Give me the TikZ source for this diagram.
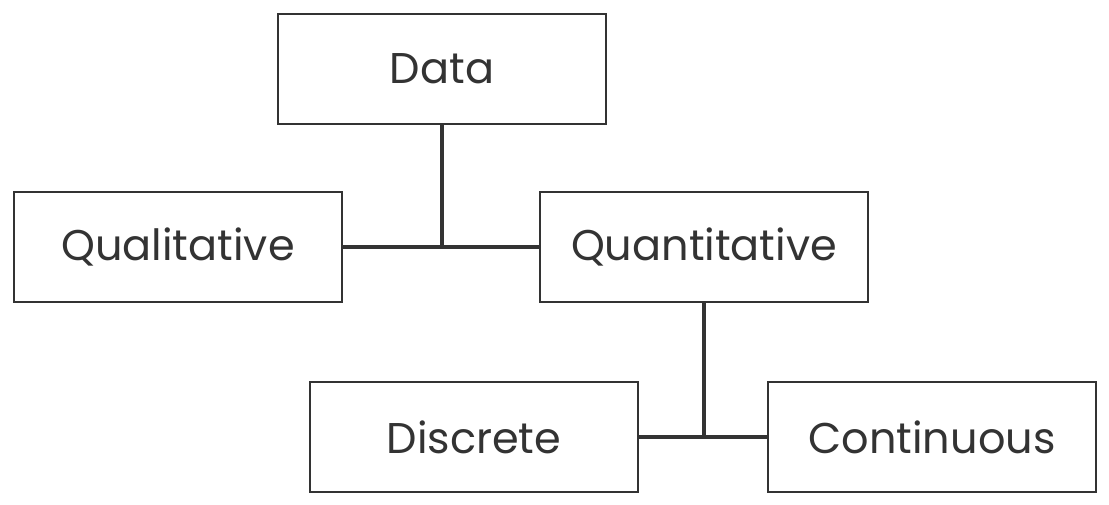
\documentclass[tikz,border=0pt]{standalone}
\usepackage{fontspec}
\setmainfont{Poppins}
\definecolor{ink}{HTML}{333333}
\begin{document}
\begin{tikzpicture}[x=1pt,y=-1pt,
  box/.style={draw=ink,line width=2pt,minimum width=328pt,minimum height=110pt,inner sep=0pt,
    text=ink,font=\fontsize{43}{50}\selectfont,anchor=north west},
  conn/.style={draw=ink,line width=4pt}]
\useasboundingbox (0,0) rectangle (1109,504);
\path[fill=white] (0,0) rectangle (1109,504);
\node[box] (data) at (277,13) {Data};
\node[box] (qual) at (13,191) {Qualitative};
\node[box] (quan) at (539,191) {Quantitative};
\node[box] (disc) at (309,381) {Discrete};
\node[box] (cont) at (767,381) {Continuous};
\coordinate (j1) at (data.south |- qual.east);
\coordinate (j2) at (quan.south |- disc.east);
\draw[conn] (qual.east) -- (quan.west);
\draw[conn] (data.south) -- (j1);
\draw[conn] (disc.east) -- (cont.west);
\draw[conn] (quan.south) -- (j2);
\end{tikzpicture}
\end{document}
